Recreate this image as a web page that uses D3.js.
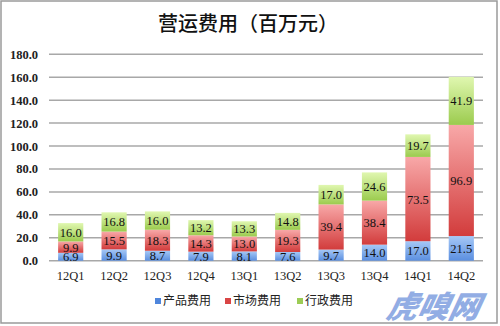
<!DOCTYPE html>
<html><head><meta charset="utf-8">
<script src="https://cdn.jsdelivr.net/npm/d3@7"></script>
<style>body{margin:0;background:#fff}svg{display:block}</style>
</head><body>
<script>
const categories = ["12Q1","12Q2","12Q3","12Q4","13Q1","13Q2","13Q3","13Q4","14Q1","14Q2"];
const productCost = [6.9, 9.9, 8.7, 7.9, 8.1, 7.6, 9.7, 14.0, 17.0, 21.5];
const marketCost  = [9.9, 15.5, 18.3, 14.3, 13.0, 19.3, 39.4, 38.4, 73.5, 96.9];
const adminCost   = [16.0, 16.8, 16.0, 13.2, 13.3, 14.8, 17.0, 24.6, 19.7, 41.9];
const seriesNames = ["产品费用","市场费用","行政费用"];
const yTicks = [0,20,40,60,80,100,120,140,160,180];
const title = "营运费用（百万元）";

const W = 500, H = 326;
const svg = d3.select("body").append("svg").attr("width", W).attr("height", H);
const defs = svg.append("defs");
const grads = [["#a6c8f6","#5b8fe0"],["#f8a8a8","#d23c3c"],["#e0f7b0","#9bcb4e"]];
grads.forEach((g,i)=>{
  const lg = defs.append("linearGradient").attr("id","g"+i).attr("x1",0).attr("x2",0).attr("y1",0).attr("y2",1);
  lg.append("stop").attr("offset","0%").attr("stop-color",g[0]);
  lg.append("stop").attr("offset","100%").attr("stop-color",g[1]);
});
const legendColors = ["#4f86dc","#d94545","#9ccc55"];

svg.append("rect").attr("x",1).attr("y",1).attr("width",W-4).attr("height",H-4)
  .attr("fill","#fff").attr("stroke","#9a9a9a").attr("stroke-width",1.5);

svg.append("text").attr("x",248).attr("y",31).attr("text-anchor","middle")
  .attr("font-family","'Noto Sans CJK SC'").attr("font-size",20).attr("font-weight",500)
  .attr("fill","#111").text(title);

const x = d3.scaleBand().domain(categories).range([49,483]).paddingInner(0.42).paddingOuter(0.21);
const y = d3.scaleLinear().domain([0,180]).range([260.7,54.3]);

const grid = svg.append("g");
yTicks.forEach(t=>{
  grid.append("line").attr("x1",49).attr("x2",483).attr("y1",y(t)).attr("y2",y(t))
    .attr("stroke","#a8a8a8").attr("stroke-width",1.5);
});
const yAxis = d3.axisLeft(y).tickValues(yTicks).tickFormat(d3.format(".1f")).tickSize(0).tickPadding(0);
const ya = svg.append("g").attr("transform","translate(38,0)").call(yAxis);
ya.select(".domain").remove();
ya.selectAll("text").attr("font-family","'Liberation Serif'").attr("font-size",12.5).attr("font-weight","bold").attr("fill","#222");

const xAxis = d3.axisBottom(x).tickSize(0).tickPadding(0);
const xa = svg.append("g").attr("transform","translate(0,271)").call(xAxis);
xa.select(".domain").remove();
xa.selectAll("text").attr("font-family","'Liberation Serif'").attr("font-size",12.5).attr("fill","#222").attr("dy","0.71em");

const data = categories.map((c,i)=>({cat:c, s0:productCost[i], s1:marketCost[i], s2:adminCost[i]}));
const stack = d3.stack().keys(["s0","s1","s2"])(data);
stack.forEach((layer,li)=>{
  const g = svg.append("g");
  g.selectAll("rect").data(layer).join("rect")
    .attr("x",d=>x(d.data.cat)).attr("width",x.bandwidth())
    .attr("y",d=>y(d[1])).attr("height",d=>y(d[0])-y(d[1]))
    .attr("fill","url(#g"+li+")");
  g.selectAll("text").data(layer).join("text")
    .attr("x",d=>x(d.data.cat)+x.bandwidth()/2)
    .attr("y",d=>(y(d[0])+y(d[1]))/2).attr("dy","0.36em")
    .attr("text-anchor","middle").attr("font-family","'Liberation Serif'").attr("font-size",12.5)
    .attr("fill","#111").text(d=>(d[1]-d[0]).toFixed(1));
});

const legX = [155,225,297];
seriesNames.forEach((n,i)=>{
  svg.append("rect").attr("x",legX[i]).attr("y",298).attr("width",6).attr("height",6).attr("fill",legendColors[i]);
  svg.append("text").attr("x",legX[i]+8).attr("y",301).attr("dy","0.36em")
    .attr("font-family","'Noto Sans CJK SC'").attr("font-size",12).attr("fill","#222").text(n);
});

svg.append("text").attr("x",432).attr("y",318).attr("text-anchor","middle")
  .attr("font-family","'Noto Sans CJK SC'").attr("font-size",31).attr("font-weight",900)
  .attr("font-style","italic").attr("fill","#7f9fe0").attr("opacity",0.85)
  .attr("transform","skewX(-12) translate(67,0)").text("虎嗅网");
</script>
</body></html>
